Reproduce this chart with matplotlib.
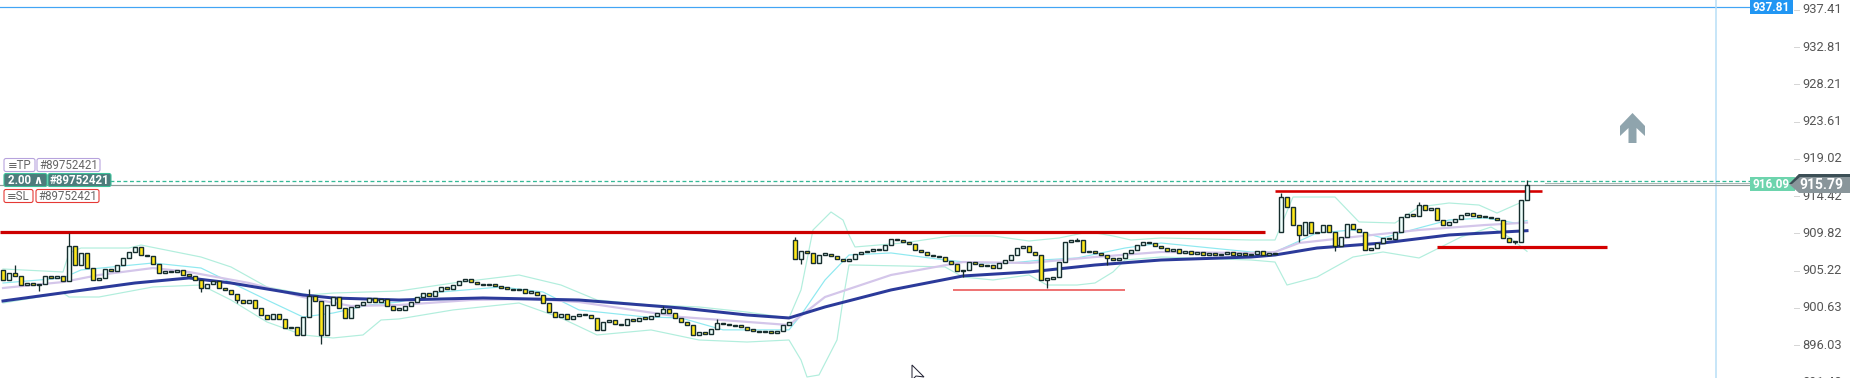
import numpy as np
import matplotlib.pyplot as plt
from matplotlib.patches import Rectangle, Polygon, FancyBboxPatch

plt.rcParams['font.family'] = ['Roboto', 'DejaVu Sans']

# ---- data (prices) ----
open0 = 905.3
closes = [
    904.1, 904.9, 904.6, 903.5, 903.7, 903.4, 903.6, 904.5, 904.3, 904.6,
    903.9, 908.3, 905.9, 907.4, 905.5, 904.1, 904.3, 905.4, 905.2, 905.9,
    906.8, 907.5, 908.1, 907.2, 907.0, 906.0, 904.9, 905.2, 905.0, 905.3,
    904.7, 904.6, 904.1, 903.1, 903.6, 903.9, 903.1, 902.8, 902.3, 901.6,
    901.2, 901.6, 900.6, 899.7, 899.3, 899.9, 899.2, 898.1, 898.3, 897.3,
    899.5, 902.1, 901.5, 897.3, 901.0, 902.0, 900.6, 899.4, 900.7, 901.0,
    901.4, 901.8, 901.4, 901.7, 900.8, 900.4, 900.4, 900.9, 901.4, 901.9,
    902.4, 902.1, 902.7, 903.2, 903.0, 903.5, 903.9, 904.2, 903.8, 903.6,
    903.4, 903.6, 903.3, 903.1, 903.0, 902.8, 902.9, 902.5, 902.6, 902.2,
    901.2, 900.1, 899.5, 899.8, 899.3, 899.6, 899.9, 899.7, 899.4, 897.9,
    898.9, 899.1, 898.6, 898.5, 899.2, 899.0, 899.4, 899.3, 899.6, 900.0,
    900.5, 900.0, 899.4, 898.9, 898.5, 897.3, 897.6, 897.4, 898.0, 898.8,
    898.6, 898.5, 898.4, 898.3, 897.9, 897.8, 897.6, 897.7, 897.5, 897.8,
    898.5, 898.9, 906.6, 907.6, 907.4, 906.2, 907.2, 907.3, 907.0, 906.7,
    906.4, 906.7, 907.3, 907.5, 907.7, 907.8, 907.8, 908.4, 909.1, 909.0,
    908.7, 908.5, 907.8, 907.5, 907.1, 907.0, 906.9, 906.4, 906.0, 905.2,
    905.3, 906.3, 906.0, 905.8, 905.9, 905.6, 906.2, 906.5, 907.2, 908.0,
    908.3, 907.5, 907.1, 904.1, 904.2, 904.4, 906.3, 908.8, 908.9, 909.0,
    907.5, 907.7, 907.4, 907.2, 906.8, 906.5, 906.8, 907.4, 907.8, 908.4,
    908.7, 908.6, 908.3, 908.0, 907.7, 907.9, 907.4, 907.6, 907.3, 907.5,
    907.2, 907.4, 907.1, 907.3, 907.5, 907.2, 907.4, 907.1, 907.3, 907.6,
    907.2, 907.4, 907.3, 914.3, 913.1, 910.8, 909.6, 911.2, 909.9, 910.0,
    910.8, 910.0, 908.3, 909.4, 911.0, 910.3, 910.0, 907.8, 908.0, 908.6,
    909.3, 909.1, 910.0, 911.8, 912.2, 912.0, 913.3, 912.7, 912.9, 911.5,
    910.9, 911.2, 911.6, 912.1, 912.3, 912.0, 911.9, 911.8, 911.7, 911.5,
    909.2, 908.8, 908.7, 913.9, 915.79,
]
# opens after weekend gaps
gap_opens = {132: 909.0, 213: 910.0}
# visible wicks: bar -> (high, low)
wicks = {2: (905.9, None), 6: (None, 902.7), 11: (909.9, None), 33: (None, 902.6),
         39: (None, 901.2), 51: (903.0, None), 53: (None, 896.2), 110: (900.8, None),
         119: (899.2, None), 132: (909.4, None), 133: (None, 906.0), 160: (None, 904.4),
         174: (None, 903.1), 179: (909.3, None), 184: (None, 905.9), 213: (914.8, None),
         216: (None, 908.8), 222: (None, 907.7), 236: (913.7, None), 252: (None, 908.5),
         254: (916.4, None)}

ma_slow_bar = [0, 11, 22, 31, 38, 50, 55, 66, 80, 96, 113, 124, 131, 137, 148, 160, 171,
               182, 193, 208, 212, 219, 230, 241, 250, 254]
ma_slow = [901.47, 902.58, 903.69, 904.31, 903.69, 902.21, 901.84, 901.59, 901.84, 901.59,
           900.60, 899.74, 899.37, 900.73, 902.83, 904.56, 905.05, 905.91, 906.53, 906.90,
           907.15, 908.01, 908.63, 909.62, 909.99, 910.15]

ma_fast_bar = [0, 10, 16, 25, 31, 41, 50, 58, 66, 78, 88, 96, 113, 131, 137, 148, 160, 171,
               182, 193, 208, 212, 216, 225, 236, 247, 254]
ma_fast = [903.07, 903.81, 904.68, 905.54, 905.05, 903.69, 901.96, 900.85, 900.97, 901.59,
           901.71, 901.34, 899.49, 898.50, 901.96, 904.68, 906.28, 906.16, 906.90, 907.52,
           907.39, 907.52, 908.63, 909.37, 910.24, 910.85, 911.15]

bb_mid_bar = [0, 10, 13, 25, 33, 44, 50, 55, 61, 66, 73, 83, 90, 96, 107, 113, 120, 131,
              133, 137, 141, 148, 157, 162, 168, 173, 179, 187, 193, 208, 212, 219, 225,
              230, 236, 241, 247, 252, 254]
bb_mid = [903.69, 904.31, 905.30, 906.16, 905.54, 901.59, 899.49, 899.98, 900.97, 901.34,
          902.58, 903.20, 902.58, 900.36, 899.50, 899.37, 897.90, 897.90, 899.74, 904.06,
          907.15, 907.40, 906.53, 906.16, 906.16, 906.53, 906.78, 908.01, 908.63, 907.52,
          907.52, 909.87, 910.24, 909.25, 910.49, 911.47, 911.72, 911.10, 911.40]

bb_up_bar = [0, 10, 11, 13, 21, 23, 33, 38, 44, 51, 55, 66, 75, 86, 93, 99, 108, 116, 124,
             131, 133, 135, 138, 140, 141, 142, 150, 158, 165, 171, 176, 181, 185, 188, 193,
             208, 212, 215, 222, 226, 232, 236, 241, 246, 249, 252, 254]
bb_up = [905.42, 905.05, 907.40, 908.01, 908.01, 908.38, 906.90, 905.67, 903.20, 902.21,
         902.45, 902.70, 903.69, 904.68, 903.44, 901.59, 900.97, 900.73, 900.10, 899.37,
         902.83, 910.24, 912.46, 911.47, 909.62, 908.14, 908.63, 909.50, 909.50, 908.88,
         909.25, 910.00, 909.50, 909.00, 909.25, 909.00, 909.00, 914.31, 914.31, 911.23,
         911.10, 913.08, 913.57, 913.32, 912.33, 913.32, 913.94]

bb_lo_bar = [0, 5, 10, 11, 16, 25, 33, 38, 44, 50, 55, 60, 63, 66, 75, 86, 93, 99, 108, 116,
             124, 131, 133, 134, 136, 139, 140, 141, 150, 157, 160, 165, 171, 174, 179, 182,
             185, 187, 193, 208, 212, 214, 219, 225, 230, 236, 238, 243, 248, 251, 254]
bb_lo = [901.22, 901.84, 902.46, 901.96, 901.96, 903.20, 903.44, 901.59, 898.87, 897.27,
         896.90, 897.27, 899.12, 899.25, 900.36, 901.22, 899.37, 897.27, 897.89, 896.65,
         896.40, 896.65, 894.18, 892.08, 892.33, 896.65, 901.59, 905.92, 905.79, 905.67,
         904.43, 904.06, 904.68, 903.44, 903.44, 903.69, 905.05, 906.53, 906.90, 906.53,
         906.28, 903.44, 904.43, 906.90, 907.52, 906.78, 907.52, 909.37, 910.60, 909.37,
         907.60]

# drawn horizontal levels: price, first bar, last bar
level_price = [909.95, 902.83, 915.05, 908.10]
level_start = [-0.5, 158.3, 212.0, 239.0]
level_end = [210.3, 187.0, 256.5, 267.3]

price_ticks = [937.41, 932.81, 928.21, 923.61, 919.02, 914.42, 909.82, 905.22, 900.63,
               896.03, 891.43]
tp_price = 937.81
bid_price = 916.29
last_price = 915.79
order_id = '#89752421'
lots = '2.00'

# ---- figure ----
W, H = 1850, 378
fig = plt.figure(figsize=(W / 100, H / 100), dpi=100)
ax = fig.add_axes([0, 0, 1, 1])
ax.set_xlim(-0.5, (W - 3) / 6)
ax.set_ylim(891.955, 938.645)
ax.set_axis_off()

px = 0.72  # one screen pixel in points
yt = ax.get_yaxis_transform()

# TP line and vertical marker
ax.axhline(tp_price, xmax=1750 / W, color='#42a5f5', lw=1.2 * px, zorder=1)
ax.axvline(285.5, color='#b7def7', lw=1.5 * px, zorder=1)

# bollinger bands and moving averages
ax.plot(bb_up_bar, bb_up, color='#b2eedd', lw=1.2 * px, zorder=2)
ax.plot(bb_lo_bar, bb_lo, color='#b2eedd', lw=1.2 * px, zorder=2)
ax.plot(bb_mid_bar, bb_mid, color='#8fe9f0', lw=1.2 * px, zorder=2)
ax.plot(ma_fast_bar, ma_fast, color='#d4c6ea', lw=2.2 * px, zorder=2)
ax.plot(ma_slow_bar, ma_slow, color='#2b3a9a', lw=3 * px, zorder=3)

# levels
widths = [3.2, 1.5, 2.6, 3.2]
colors = ['#cc0000', '#e94848', '#d40000', '#d40000']
for p, s, e, w, c in zip(level_price, level_start, level_end, widths, colors):
    ax.hlines(p, s, e, color=c, lw=w * px, zorder=4)

# price lines
ax.axhline(bid_price, xmin=110 / W, xmax=1750 / W, color='#35b996', lw=1.3 * px,
           ls=(0, (3, 2)), zorder=5)
ax.axhline(last_price + 0.05, xmax=1750 / W, color='#8f9a9a', lw=1.2 * px, zorder=5)
ax.axhline(last_price + 0.3, xmin=1545 / W, xmax=1750 / W, color='#a9b8b4', lw=1 * px, zorder=5)

# candles
c = np.array(closes)
x = np.arange(len(c))
o = np.r_[open0, c[:-1]]
for i, v in gap_opens.items():
    o[i] = v
hi = np.maximum(o, c)
lo = np.minimum(o, c)
for i, (h, l) in wicks.items():
    if h is not None:
        hi[i] = h
    if l is not None:
        lo[i] = l
dark = '#172e2e'
ax.vlines(x, lo, hi, color=dark, lw=1.3 * px, zorder=6)
body = np.abs(c - o)
bot = np.minimum(o, c)
body = np.where(body < 0.15, 0.15, body)
fills = np.where(c >= o, '#eefffc', '#ffe81a')
ax.bar(x, body, bottom=bot, width=0.7, color=fills, edgecolor=dark,
       linewidth=1.4 * px, zorder=7)

# price axis labels
for t in price_ticks:
    ax.text(1802 / W, t, f'{t:.2f}', transform=yt, ha='left', va='center',
            fontsize=9.3, color='#555555', zorder=8)
    ax.plot([1794 / W, 1799 / W], [t, t], transform=yt, color='#d6d6d6', lw=1 * px,
            zorder=8, clip_on=False)

# ---- overlay in screen pixels ----
ov = fig.add_axes([0, 0, 1, 1], facecolor='none')
ov.set_xlim(0, W)
ov.set_ylim(H, 0)
ov.set_axis_off()


def tag(x0, x1, yc, text, fc, ec, tc, bold=False, h=13):
    ov.add_patch(FancyBboxPatch((x0, yc - h / 2), x1 - x0, h,
                                boxstyle='round,pad=0,rounding_size=2',
                                fc=fc, ec=ec, lw=1.1 * px, zorder=10))
    ov.text((x0 + x1) / 2, yc + 0.5, text, ha='center', va='center', fontsize=8.3,
            color=tc, fontweight='bold' if bold else 'normal', zorder=11)


tag(4, 35, 165, '≡TP', 'white', '#b7a3dd', '#666666')
tag(37, 100, 165, order_id, 'white', '#b7a3dd', '#666666')
tag(4, 47, 180, lots + ' ∧', '#4d7c7c', '#3cc29a', 'white', True)
tag(48, 111, 180, order_id, '#4d7c7c', '#3cc29a', 'white', True)
tag(4, 33, 196, '≡SL', 'white', '#e53935', '#666666')
tag(36, 99, 196, order_id, 'white', '#e53935', '#666666')

# right-side price tags
ov.add_patch(Rectangle((1750, 0), 43, 14, fc='#2196f3', ec='none', zorder=10))
ov.text(1771.5, 7.5, f'{tp_price:.2f}', ha='center', va='center', fontsize=8.5,
        color='white', fontweight='bold', zorder=11)
ov.add_patch(Rectangle((1750, 177), 45, 14, fc='#6dd4ad', ec='none', zorder=10))
ov.text(1771, 184.5, f'{bid_price - 0.2:.2f}', ha='center', va='center', fontsize=8.5,
        color='white', fontweight='bold', zorder=11)
ov.add_patch(Polygon([(1789, 184), (1799, 174), (1850, 174), (1850, 193), (1799, 193)],
                     closed=True, fc='#89959a', ec='none', zorder=12))
ov.add_patch(Polygon([(1789, 184), (1799, 174), (1850, 174), (1850, 177), (1800, 177),
                      (1792, 184)], closed=True, fc='#3c4f56', ec='none', zorder=13))
ov.text(1821, 185, f'{last_price:.2f}', ha='center', va='center', fontsize=10,
        color='white', fontweight='bold', zorder=14)

# trade arrow icon
ov.add_patch(Polygon([(1632.5, 113), (1645, 126), (1645, 136), (1636.5, 128), (1636.5, 143),
                      (1628.5, 143), (1628.5, 128), (1620, 136), (1620, 126)],
                     closed=True, fc='#8fa4ad', ec='none', zorder=10))

# mouse cursor
ov.add_patch(Polygon([(912, 365), (912, 380), (916, 376), (924, 377)], closed=True,
                     fc='white', ec='#222233', lw=1 * px, zorder=10))

fig.savefig('out.png', dpi=100)
